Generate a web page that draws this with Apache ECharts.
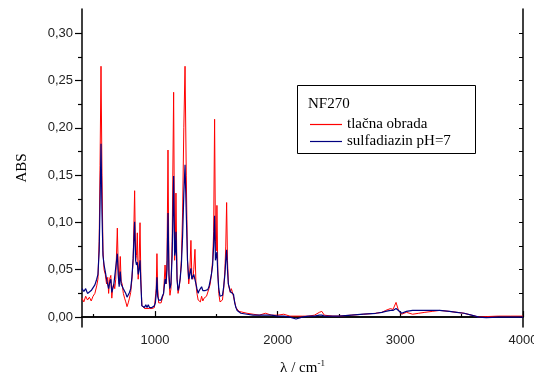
<!DOCTYPE html>
<html>
<head>
<meta charset="utf-8">
<script src="https://cdn.jsdelivr.net/npm/echarts@6/dist/echarts.min.js"></script>
<style>
  html, body { margin: 0; padding: 0; background: #fff; }
  #main { width: 534px; height: 378px; }
</style>
</head>
<body>
<div id="main"></div>
<script>
// valni broj (cm-1)
var wavenumbers = [
  405, 420, 435, 450, 465, 480, 495, 510, 525, 535, 545, 552, 560, 568, 576, 585, 595, 605, 615, 622,
  630, 640, 648, 656, 664, 672, 680, 693, 700, 708, 717, 724, 732, 742, 752, 762, 772, 782, 792, 802,
  812, 822, 834, 842, 849, 856, 863, 870, 878, 885, 893, 905, 915, 925, 935, 945, 955, 965, 975, 985,
  995, 1003, 1010, 1016, 1022, 1030, 1040, 1050, 1060, 1070, 1082, 1090, 1098, 1106, 1114, 1122, 1130, 1140, 1152, 1160,
  1166, 1171, 1180, 1188, 1196, 1205, 1215, 1225, 1235, 1245, 1255, 1265, 1275, 1283, 1293, 1300, 1308, 1316, 1326, 1334,
  1342, 1352, 1360, 1370, 1380, 1390, 1400, 1410, 1420, 1430, 1440, 1450, 1460, 1470, 1478, 1486, 1493, 1500, 1505, 1512,
  1520, 1530, 1540, 1550, 1560, 1570, 1577, 1584, 1591, 1598, 1606, 1614, 1622, 1630, 1640, 1650, 1660, 1670, 1685, 1700,
  1750, 1800, 1850, 1900, 1950, 2000, 2050, 2100, 2150, 2200, 2250, 2300, 2340, 2360, 2380, 2450, 2500, 2600, 2700, 2800,
  2850, 2880, 2920, 2940, 2965, 2985, 3010, 3050, 3100, 3150, 3200, 3260, 3320, 3400, 3460, 3520, 3580, 3640, 3700, 3800,
  3900, 4000
];
// tlačna obrada
var tlacnaObrada = [
  0.020, 0.016, 0.022, 0.018, 0.021, 0.017, 0.022, 0.025, 0.033, 0.040, 0.080, 0.160, 0.265, 0.150, 0.070, 0.050, 0.045, 0.035, 0.042, 0.025,
  0.040, 0.044, 0.020, 0.032, 0.035, 0.030, 0.040, 0.094, 0.055, 0.035, 0.064, 0.038, 0.035, 0.025, 0.020, 0.016, 0.011, 0.015, 0.020, 0.026,
  0.040, 0.060, 0.1335, 0.060, 0.065, 0.089, 0.040, 0.055, 0.0997, 0.040, 0.012, 0.010, 0.009, 0.010, 0.009, 0.010, 0.009, 0.010, 0.009, 0.010,
  0.010, 0.012, 0.030, 0.067, 0.030, 0.015, 0.013, 0.015, 0.020, 0.025, 0.055, 0.035, 0.060, 0.1765, 0.040, 0.023, 0.030, 0.080, 0.2375, 0.060,
  0.080, 0.131, 0.040, 0.025, 0.030, 0.040, 0.060, 0.110, 0.200, 0.265, 0.150, 0.060, 0.035, 0.045, 0.081, 0.045, 0.040, 0.050, 0.0716, 0.035,
  0.025, 0.018, 0.020, 0.016, 0.022, 0.017, 0.020, 0.018, 0.022, 0.024, 0.030, 0.035, 0.045, 0.060, 0.090, 0.209, 0.080, 0.070, 0.118, 0.050,
  0.025, 0.016, 0.015, 0.018, 0.030, 0.050, 0.075, 0.121, 0.060, 0.035, 0.030, 0.026, 0.030, 0.027, 0.025, 0.016, 0.010, 0.008, 0.006, 0.005,
  0.004, 0.003, 0.002, 0.004, 0.002, 0.002, 0.003, 0.001, 0.001, 0.001, 0.001, 0.002, 0.005, 0.006, 0.002, 0.001, 0.001, 0.002, 0.003, 0.004,
  0.005, 0.007, 0.009, 0.008, 0.0155, 0.007, 0.003, 0.005, 0.003, 0.004, 0.005, 0.006, 0.007, 0.006, 0.005, 0.004, 0.002, 0.000, 0.0005, 0.001,
  0.001, 0.001
];
// sulfadiazin pH=7
var sulfadiazin = [
  0.030, 0.027, 0.030, 0.025, 0.026, 0.028, 0.030, 0.034, 0.040, 0.045, 0.070, 0.120, 0.183, 0.110, 0.065, 0.055, 0.048, 0.040, 0.038, 0.030,
  0.036, 0.040, 0.026, 0.030, 0.034, 0.032, 0.035, 0.067, 0.045, 0.032, 0.048, 0.035, 0.034, 0.030, 0.028, 0.025, 0.021, 0.022, 0.026, 0.030,
  0.042, 0.062, 0.1007, 0.060, 0.055, 0.058, 0.045, 0.050, 0.060, 0.035, 0.012, 0.012, 0.010, 0.013, 0.010, 0.013, 0.010, 0.012, 0.010, 0.011,
  0.012, 0.015, 0.025, 0.042, 0.022, 0.018, 0.020, 0.018, 0.022, 0.025, 0.040, 0.035, 0.050, 0.110, 0.045, 0.030, 0.035, 0.065, 0.149, 0.065,
  0.070, 0.090, 0.040, 0.028, 0.032, 0.040, 0.055, 0.085, 0.130, 0.161, 0.110, 0.060, 0.040, 0.045, 0.0515, 0.040, 0.038, 0.045, 0.0465, 0.035,
  0.030, 0.025, 0.028, 0.030, 0.032, 0.028, 0.030, 0.028, 0.030, 0.029, 0.032, 0.034, 0.045, 0.055, 0.075, 0.107, 0.060, 0.060, 0.069, 0.045,
  0.030, 0.022, 0.020, 0.023, 0.032, 0.045, 0.060, 0.071, 0.050, 0.035, 0.031, 0.027, 0.028, 0.026, 0.024, 0.015, 0.010, 0.007, 0.005, 0.004,
  0.003, 0.002, 0.002, 0.002, 0.002, 0.001, 0.001, 0.000, -0.002, 0.000, 0.001, 0.001, 0.002, 0.002, 0.001, 0.001, 0.001, 0.002, 0.003, 0.004,
  0.005, 0.006, 0.007, 0.007, 0.009, 0.007, 0.004, 0.006, 0.007, 0.007, 0.007, 0.007, 0.007, 0.006, 0.005, 0.004, 0.002, 0.000, -0.0005, 0.000,
  0.000, 0.000
];
var yMajorTicks = [0, 0.05, 0.10, 0.15, 0.20, 0.25, 0.30];
var yMinorTicks = [0.025, 0.075, 0.125, 0.175, 0.225, 0.275];
var xLabelTicks = [1000, 2000, 3000, 4000];
var xMinorTicks = [500, 1500, 2500, 3500];

var chart = echarts.init(document.getElementById('main'), null, { renderer: 'canvas' });

function pairs(ys) {
  return wavenumbers.map(function (x, i) { return [x, ys[i]]; });
}

var X_MIN = 405, X_MAX = 4000, Y_MIN = -0.0105, Y_MAX = 0.3255;
var sans = 'Liberation Sans';
var serif = 'Liberation Serif';

var option = {
  backgroundColor: '#ffffff',
  animation: false,
  grid: { left: 82, right: 11, top: 9, bottom: 51, outerBoundsMode: 'none', containLabel: false },
  title: {
    text: 'NF270',
    left: 303, top: 92,
    textStyle: { fontFamily: serif, fontSize: 15, fontWeight: 'normal', color: '#000' }
  },
  legend: {
    left: 305, top: 112,
    orient: 'vertical',
    icon: 'rect',
    itemWidth: 32, itemHeight: 1.2, itemGap: 2,
    textStyle: { fontFamily: serif, fontSize: 15, lineHeight: 15, color: '#000' },
    data: ['tlačna obrada', 'sulfadiazin pH=7']
  },
  graphic: [{
    type: 'rect',
    shape: { x: 297.5, y: 85.5, width: 178, height: 68 },
    style: { fill: '#fff', stroke: '#000', lineWidth: 1 },
    z: 0, zlevel: 0
  }],
  xAxis: [{
    type: 'value', min: X_MIN, max: X_MAX,
    position: 'bottom',
    name: '{a|λ / cm}{s|-1}',
    nameLocation: 'middle', nameGap: 32,
    nameTextStyle: {
      rich: {
        a: { fontFamily: serif, fontSize: 15, color: '#000' },
        s: { fontFamily: serif, fontSize: 9, color: '#000', verticalAlign: 'top', padding: [0, 0, 10, 0] }
      }
    },
    splitLine: { show: false },
    axisLine: { lineStyle: { color: '#000', width: 1.5 } },
    axisTick: { inside: true, length: 6, customValues: xLabelTicks, lineStyle: { color: '#000', width: 1.2 } },
    axisLabel: {
      customValues: xLabelTicks, margin: 7, fontFamily: sans, fontSize: 13, color: '#222',
      formatter: function (v) { return String(v); }
    }
  }, {
    type: 'value', min: X_MIN, max: X_MAX,
    position: 'bottom',
    splitLine: { show: false },
    axisLine: { show: false },
    axisTick: { inside: true, length: 3, customValues: xMinorTicks, lineStyle: { color: '#000', width: 1.2 } },
    axisLabel: { show: false }
  }, {
    type: 'value', min: X_MIN, max: X_MAX,
    position: 'top',
    splitLine: { show: false },
    axisLine: { lineStyle: { color: '#000', width: 1.5 } },
    axisTick: { inside: false, length: 3, customValues: xMinorTicks.concat(xLabelTicks), lineStyle: { color: '#000', width: 1 } },
    axisLabel: { show: false }
  }],
  yAxis: [{
    type: 'value', min: Y_MIN, max: Y_MAX,
    position: 'left',
    name: 'ABS',
    nameLocation: 'middle', nameGap: 52,
    nameTextStyle: { fontFamily: serif, fontSize: 15, color: '#000' },
    splitLine: { show: false },
    axisLine: { lineStyle: { color: '#000', width: 1.5 } },
    axisTick: { inside: false, length: 7, customValues: yMajorTicks, lineStyle: { color: '#000', width: 1.2 } },
    axisLabel: {
      customValues: yMajorTicks, margin: 9, fontFamily: sans, fontSize: 13, color: '#222',
      formatter: function (v) { return v.toFixed(2).replace('.', ','); }
    }
  }, {
    type: 'value', min: Y_MIN, max: Y_MAX,
    position: 'left',
    splitLine: { show: false },
    axisLine: { show: false },
    axisTick: { inside: false, length: 4, customValues: yMinorTicks, lineStyle: { color: '#000', width: 1.2 } },
    axisLabel: { show: false }
  }, {
    type: 'value', min: Y_MIN, max: Y_MAX,
    position: 'right',
    splitLine: { show: false },
    axisLine: { lineStyle: { color: '#000', width: 1.5 } },
    axisTick: { inside: true, length: 4, customValues: yMajorTicks.concat(yMinorTicks), lineStyle: { color: '#000', width: 1 } },
    axisLabel: { show: false }
  }],
  series: [{
    name: 'tlačna obrada',
    type: 'line',
    symbol: 'none',
    lineStyle: { color: '#ff0000', width: 1 },
    itemStyle: { color: '#ff0000' },
    data: pairs(tlacnaObrada),
    z: 3
  }, {
    name: 'sulfadiazin pH=7',
    type: 'line',
    symbol: 'none',
    lineStyle: { color: '#000080', width: 1.2 },
    itemStyle: { color: '#000080' },
    data: pairs(sulfadiazin),
    z: 4
  }]
};

chart.setOption(option);
</script>
</body>
</html>
